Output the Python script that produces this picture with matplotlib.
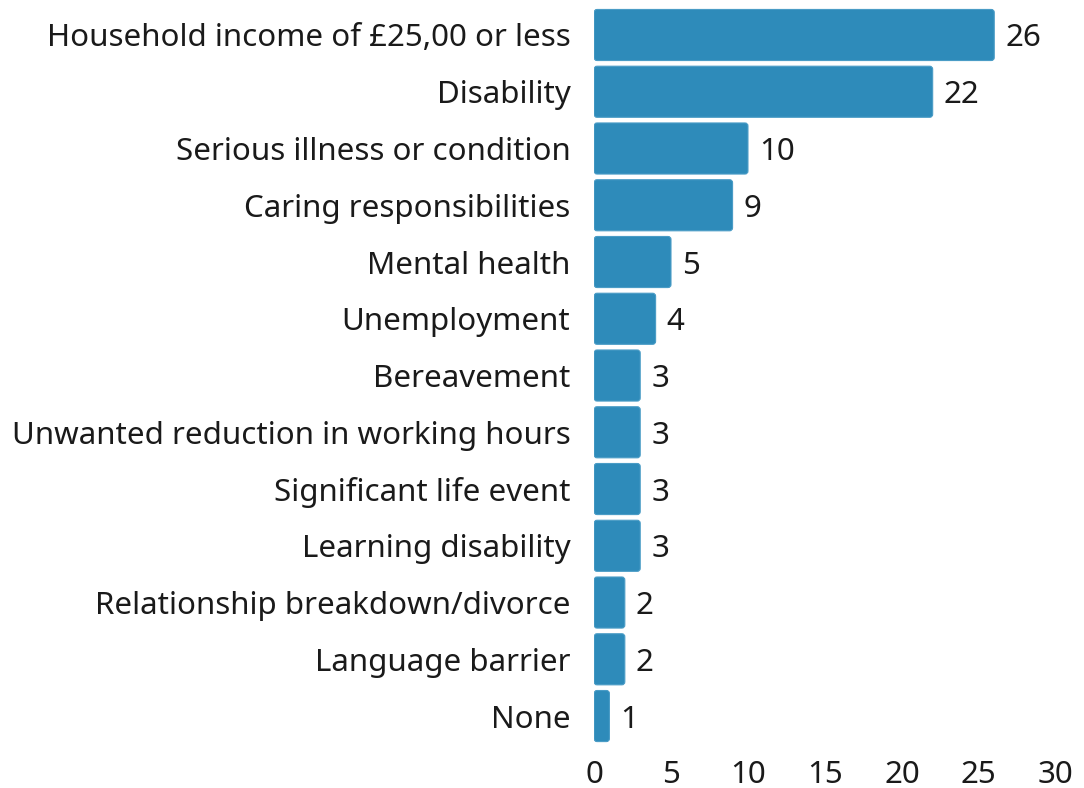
import matplotlib
matplotlib.use("Agg")
import matplotlib.pyplot as plt
from matplotlib.patches import FancyBboxPatch

plt.rcParams['font.family'] = ['Noto Sans', 'DejaVu Sans']

categories = [
    "Household income of £25,00 or less",
    "Disability",
    "Serious illness or condition",
    "Caring responsibilities",
    "Mental health",
    "Unemployment",
    "Bereavement",
    "Unwanted reduction in working hours",
    "Significant life event",
    "Learning disability",
    "Relationship breakdown/divorce",
    "Language barrier",
    "None",
]
values = [26, 22, 10, 9, 5, 4, 3, 3, 3, 3, 2, 2, 1]
xticks = [0, 5, 10, 15, 20, 25, 30]

bar_color = "#2e8bba"
text_color = "#1a1a1a"
fs = 22.5

fig = plt.figure(figsize=(10.84, 7.88), dpi=100)
ax = fig.add_axes([0.548, 0.0553, 0.426, 0.9363])

ypos = list(range(len(categories)))
bars = ax.barh(ypos, values, height=0.9, color=bar_color)
ax.set_xlim(0, 30)
ax.set_ylim(len(categories) - 0.5, -0.5)

# swap plain rectangles for slightly rounded ones
fig.canvas.draw()
bbox = ax.get_window_extent()
px_per_x = bbox.width / 30.0
px_per_y = bbox.height / len(categories)
aspect = px_per_x / px_per_y
r = 3.0 / px_per_x
for b in bars:
    x0, y0, w, h = b.get_x(), b.get_y(), b.get_width(), b.get_height()
    b.set_visible(False)
    p = FancyBboxPatch((x0, y0), w, h,
                       boxstyle=f"round,pad=0,rounding_size={r}",
                       mutation_aspect=aspect,
                       facecolor=bar_color, edgecolor="#4a9cc6", linewidth=0.8)
    ax.add_patch(p)

for y, v in zip(ypos, values):
    ax.annotate(str(v), xy=(v, y), xytext=(8, 0), textcoords="offset points",
                va="center_baseline", ha="left", fontsize=fs, color=text_color)

ax.set_yticks(ypos)
ax.set_yticklabels(categories, fontsize=fs, color=text_color, va="center_baseline")
ax.set_xticks(xticks)
ax.set_xticklabels([str(t) for t in xticks], fontsize=fs, color=text_color)
ax.tick_params(axis="both", length=0)
ax.tick_params(axis="y", pad=17)
ax.tick_params(axis="x", pad=11)
for s in ax.spines.values():
    s.set_visible(False)

fig.savefig("out.png", dpi=100)
